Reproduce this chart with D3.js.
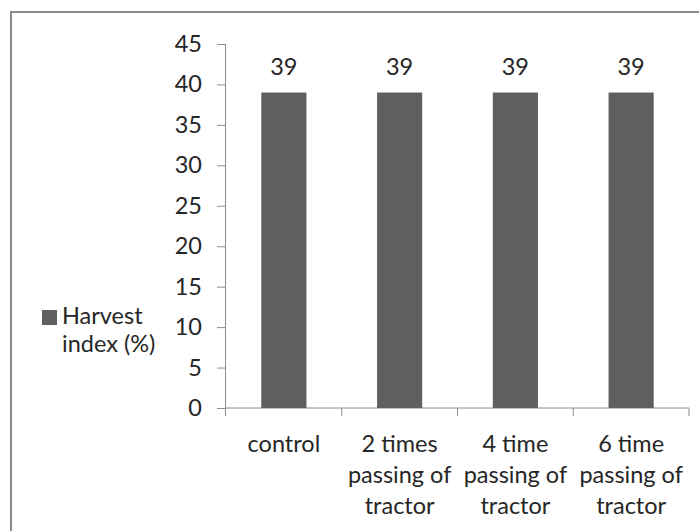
<!DOCTYPE html>
<html>
<head>
<meta charset="utf-8">
<script src="https://cdn.jsdelivr.net/npm/d3@7"></script>
<style>
  html, body { margin: 0; padding: 0; background: #fff; }
  svg { display: block; }
  text { font-family: Lato, "Open Sans", sans-serif; fill: #262626; }
</style>
</head>
<body>
<svg id="chart" width="699" height="531"></svg>
<script>
// Harvest index by number of tractor passes
const categories = [
  ["control"],
  ["2 times", "passing of", "tractor"],
  ["4 time", "passing of", "tractor"],
  ["6 time", "passing of", "tractor"]
];
const harvestIndex = [39, 39, 39, 39];
const yTicks = [0, 5, 10, 15, 20, 25, 30, 35, 40, 45];
const seriesName = ["Harvest", "index (%)"];

const svg = d3.select("#chart");
const fontSize = 23.5;
const barColor = "#5f5f5f";
const axisColor = "#8c8c8c";

// chart frame
svg.append("rect")
  .attr("x", 11).attr("y", 12)
  .attr("width", 720).attr("height", 560)
  .attr("fill", "none").attr("stroke", "#8a8a8a").attr("stroke-width", 2);

const keys = categories.map((c, i) => i);
const x = d3.scaleBand().domain(keys).range([226, 689]).padding(0);
const y = d3.scaleLinear().domain([0, 45]).range([408, 44]);

// y axis
const yAxis = svg.append("g")
  .attr("transform", `translate(${x.range()[0]},0)`)
  .call(d3.axisLeft(y).tickValues(yTicks).tickSize(9).tickPadding(15));
yAxis.select(".domain").attr("stroke", axisColor).attr("d", `M-0.5,${y(45)}V${y(0) + 8}`);
yAxis.selectAll(".tick line").attr("stroke", axisColor);
yAxis.selectAll(".tick text")
  .style("font-size", fontSize + "px").style("font-family", "Lato, sans-serif")
  .attr("fill", "#262626");

// x axis line and category boundary ticks
const xAxis = svg.append("g");
xAxis.append("line")
  .attr("x1", x.range()[0]).attr("x2", x.range()[1])
  .attr("y1", y(0)).attr("y2", y(0))
  .attr("stroke", axisColor);
const bounds = keys.map(k => x(k) + x.bandwidth());
xAxis.selectAll("line.bound").data(bounds).join("line")
  .attr("class", "bound")
  .attr("x1", d => d).attr("x2", d => d)
  .attr("y1", y(0)).attr("y2", y(0) + 8)
  .attr("stroke", axisColor);

// category labels
const lineStart = 452, lineGap = 31;
xAxis.selectAll("text.cat").data(categories).join("text")
  .attr("class", "cat")
  .attr("text-anchor", "middle")
  .style("font-size", fontSize + "px")
  .each(function (lines, i) {
    d3.select(this).selectAll("tspan").data(lines).join("tspan")
      .attr("x", x(i) + x.bandwidth() / 2)
      .attr("y", (d, j) => lineStart + j * lineGap)
      .text(d => d);
  });

// bars
const barW = x.bandwidth() * 0.39;
svg.selectAll("rect.bar").data(harvestIndex).join("rect")
  .attr("class", "bar")
  .attr("x", (d, i) => x(i) + (x.bandwidth() - barW) / 2)
  .attr("y", d => y(d))
  .attr("width", barW)
  .attr("height", d => y(0) - y(d))
  .attr("fill", barColor);

// value labels
svg.selectAll("text.val").data(harvestIndex).join("text")
  .attr("class", "val")
  .attr("text-anchor", "middle")
  .attr("x", (d, i) => x(i) + x.bandwidth() / 2)
  .attr("y", d => y(d) - 18)
  .style("font-size", fontSize + "px")
  .text(d => d);

// legend
const legend = svg.append("g");
legend.append("rect")
  .attr("x", 42).attr("y", 310).attr("width", 15).attr("height", 15)
  .attr("fill", barColor);
legend.selectAll("text").data(seriesName).join("text")
  .attr("x", 62)
  .attr("y", (d, i) => 324 + i * 28)
  .style("font-size", fontSize + "px")
  .text(d => d);
</script>
</body>
</html>
